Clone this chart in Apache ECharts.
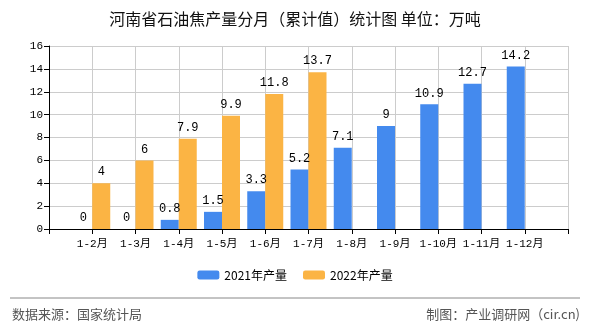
<!DOCTYPE html>
<html><head><meta charset="utf-8">
<script src="https://cdn.jsdelivr.net/npm/echarts@6/dist/echarts.min.js"></script>
<style>html,body{margin:0;padding:0;background:#fff}#c{width:590px;height:330px}</style>
</head><body><div id="c"></div>
<script>
const categories = ['', '1-2月', '1-3月', '1-4月', '1-5月', '1-6月', '1-7月', '1-8月', '1-9月', '1-10月', '1-11月', '1-12月', ''];
const values2021 = [null, 0, 0, 0.8, 1.5, 3.3, 5.2, 7.1, 9, 10.9, 12.7, 14.2, null];
const values2022 = [null, 4, 6, 7.9, 9.9, 11.8, 13.7, null, null, null, null, null, null];
const yTicks = { min: 0, max: 16, interval: 2 };

const mono = "'Liberation Mono', 'Noto Sans CJK SC', monospace";
const chart = echarts.init(document.getElementById('c'));
const lbl = { show: true, position: 'top', color: '#000', fontFamily: mono, fontSize: 12, distance: 5 };
chart.setOption({
  animation: false,
  title: { text: '河南省石油焦产量分月（累计值）统计图 单位：万吨', left: 'center', top: 6,
    textStyle: { fontSize: 16, fontWeight: 'normal', color: '#111', fontFamily: "'Noto Sans CJK SC'" } },
  grid: { left: 49, right: 22, top: 46, bottom: 101, containLabel: false },
  legend: { bottom: 44, left: 'center', itemWidth: 22, itemHeight: 9, itemGap: 16,
    textStyle: { fontSize: 12, color: '#000', fontFamily: "'Noto Sans CJK SC'" },
    data: ['2021年产量', '2022年产量'] },
  xAxis: { type: 'category', data: categories, boundaryGap: false,
    axisLine: { lineStyle: { color: '#000' } }, axisTick: { show: true, lineStyle: { color: '#000' } },
    splitLine: { show: true, lineStyle: { color: '#ccc' } },
    axisLabel: { color: '#000', fontFamily: mono, fontSize: 11, margin: 10, interval: 0 } },
  yAxis: { type: 'value', min: yTicks.min, max: yTicks.max, interval: yTicks.interval,
    axisLine: { show: true, lineStyle: { color: '#000' } }, axisTick: { show: true, lineStyle: { color: '#000' } },
    splitLine: { lineStyle: { color: '#ccc' } },
    axisLabel: { color: '#000', fontFamily: mono, fontSize: 11, margin: 6 } },
  series: [
    { name: '2021年产量', type: 'bar', data: values2021, barWidth: 18, barGap: '0%',
      itemStyle: { color: '#448AEE' }, label: lbl },
    { name: '2022年产量', type: 'bar', data: values2022, barWidth: 18, barGap: '0%',
      itemStyle: { color: '#FBB444' }, label: lbl }
  ],
  graphic: [
    { type: 'line', shape: { x1: 10, y1: 298, x2: 580, y2: 298 }, style: { stroke: '#888', lineWidth: 1 } },
    { type: 'text', left: 12, top: 308, style: { text: '数据来源：国家统计局', fill: '#555', fontSize: 13, fontFamily: "'Noto Sans CJK SC'" } },
    { type: 'text', right: 10, top: 308, style: { text: '制图：产业调研网（cir.cn)', fill: '#555', fontSize: 13, fontFamily: "'Noto Sans CJK SC'" } }
  ]
});
</script></body></html>
